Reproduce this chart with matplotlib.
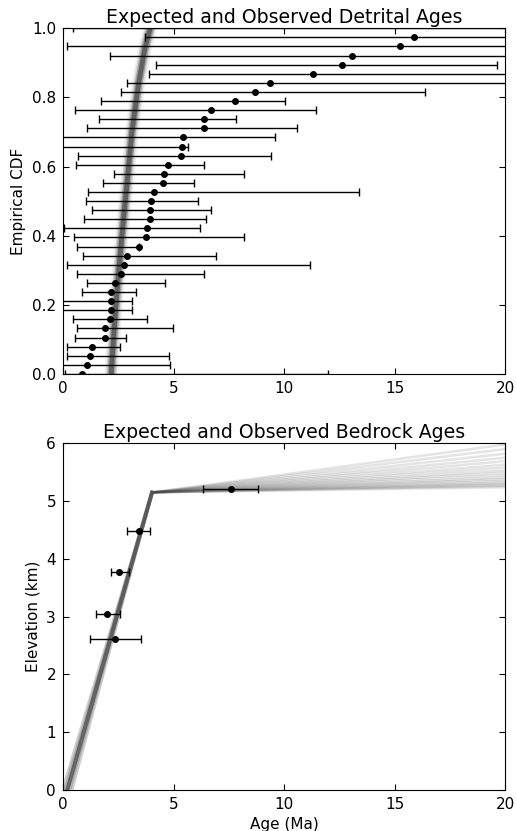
import numpy as np
import matplotlib
matplotlib.use('Agg')
import matplotlib.pyplot as plt

# detrital ages (Ma), sorted, with lower / upper error limits
DET_AGE = [0.86, 1.07, 1.22, 1.33, 1.90, 1.92, 2.14, 2.16, 2.16, 2.19,
           2.34, 2.61, 2.74, 2.90, 3.42, 3.77, 3.78, 3.92, 3.92, 3.99,
           4.10, 4.51, 4.57, 4.73, 5.32, 5.37, 5.41, 6.37, 6.37, 6.71,
           7.78, 8.69, 9.37, 11.33, 12.64, 13.08, 15.25, 15.89, 22.0]
DET_LO = [0.11, -0.1, 0.18, 0.18, 0.56, 0.62, 0.44, -0.3, -0.3, 0.86,
          1.07, 0.62, 0.18, 0.89, 0.62, 0.52, 0.06, 0.97, 1.31, 1.04,
          1.13, 1.81, 2.32, 0.59, 0.67, -0.5, -0.5, 1.09, 1.64, 0.56,
          1.70, 2.62, 2.88, 3.89, 4.19, 2.11, 0.18, 3.69, 0.44]
DET_HI = [12.0, 4.85, 4.79, 2.59, 2.86, 4.96, 3.80, 3.14, 3.11, 3.29,
          4.63, 6.37, 11.18, 6.93, 3.44, 8.20, 6.22, 6.48, 6.68, 6.13,
          13.38, 5.92, 8.17, 6.37, 9.43, 5.64, 9.61, 10.59, 7.84, 11.45,
          10.02, 16.39, 25.0, 25.0, 19.61, 25.0, 25.0, 25.0, 30.0]

# expected detrital CDF (centre of the model band)
BAND_CDF = [0.0, 0.18, 0.37, 0.54, 0.70, 0.84, 0.94, 1.0]
BAND_AGE = [2.18, 2.37, 2.62, 2.88, 3.12, 3.42, 3.70, 3.95]

# bedrock samples
BED_AGE = [7.61, 3.45, 2.53, 1.98, 2.34]
BED_LO = [6.33, 2.90, 2.16, 1.48, 1.22]
BED_HI = [8.82, 3.95, 2.97, 2.56, 3.53]
BED_ELEV = [5.21, 4.48, 3.77, 3.04, 2.61]

# model age-elevation profiles: surface ages, break point, elevations at 20 Ma
MODEL_BASE_AGE = [0.0, 0.1, 0.2, 0.3, 0.4]
MODEL_BREAK = (4.03, 5.15)
MODEL_END_ELEV = [5.24, 5.26, 5.28, 5.3, 5.32, 5.35, 5.38, 5.41, 5.45, 5.49,
                  5.53, 5.58, 5.63, 5.69, 5.75, 5.82, 5.9, 5.98]

plt.rcParams['font.family'] = 'DejaVu Sans'
plt.rcParams['xtick.direction'] = 'in'
plt.rcParams['ytick.direction'] = 'in'
plt.rcParams['xtick.top'] = True
plt.rcParams['ytick.right'] = True
plt.rcParams['xtick.major.size'] = 4
plt.rcParams['ytick.major.size'] = 4
plt.rcParams['xtick.major.pad'] = 5
plt.rcParams['ytick.major.pad'] = 5
plt.rcParams['xtick.labelsize'] = 11
plt.rcParams['ytick.labelsize'] = 11

fig = plt.figure(figsize=(5.16, 8.31), dpi=100)
ax1 = fig.add_axes([0.122, 0.550, 0.857, 0.416])
ax2 = fig.add_axes([0.122, 0.0497, 0.857, 0.4168])

# --- detrital CDF ---
band_layers = [(10, 0.08), (7.5, 0.16), (5.5, 0.35), (3.5, 0.65)]
for lw, a in band_layers:
    ax1.plot(BAND_AGE, BAND_CDF, color='#404040', lw=lw, alpha=a,
             solid_capstyle='butt', zorder=1)

age = np.array(DET_AGE)
cdf = np.arange(len(age)) / (len(age) - 1)
xerr = [age - np.array(DET_LO), np.array(DET_HI) - age]
ax1.errorbar(age, cdf, xerr=xerr, fmt='o', color='black', ms=4,
             elinewidth=1, capsize=3, capthick=1, zorder=3)

ax1.set_xlim(0, 20)
ax1.set_ylim(0, 1)
ax1.set_xticks([0, 5, 10, 15, 20])
ax1.set_yticks([0.0, 0.2, 0.4, 0.6, 0.8, 1.0])
ax1.set_ylabel('Empirical CDF', fontsize=11)
ax1.set_title('Expected and Observed Detrital Ages', fontsize=13.6, pad=4)

# --- bedrock age-elevation ---
bx, by = MODEL_BREAK
for x0 in MODEL_BASE_AGE:
    ax2.plot([x0, bx], [0, by], color='#404040', lw=2.5, alpha=0.25,
             solid_capstyle='butt', zorder=1)
ax2.plot([MODEL_BASE_AGE[2], bx], [0, by], color='#555555', lw=3,
         alpha=0.8, zorder=2)
for e in MODEL_END_ELEV:
    ax2.plot([bx, 20], [by, e], color='#404040', lw=1.8, alpha=0.14, zorder=1)

bage = np.array(BED_AGE)
bxerr = [bage - np.array(BED_LO), np.array(BED_HI) - bage]
ax2.errorbar(bage, BED_ELEV, xerr=bxerr, fmt='o', color='black', ms=4,
             elinewidth=1, capsize=3, capthick=1, zorder=3)

ax2.set_xlim(0, 20)
ax2.set_ylim(0, 6)
ax2.set_xticks([0, 5, 10, 15, 20])
ax2.set_yticks([0, 1, 2, 3, 4, 5, 6])
ax2.set_xlabel('Age (Ma)', fontsize=11)
ax2.set_ylabel('Elevation (km)', fontsize=11)
ax2.set_title('Expected and Observed Bedrock Ages', fontsize=13.6, pad=4)

fig.savefig('out.png', dpi=100)
